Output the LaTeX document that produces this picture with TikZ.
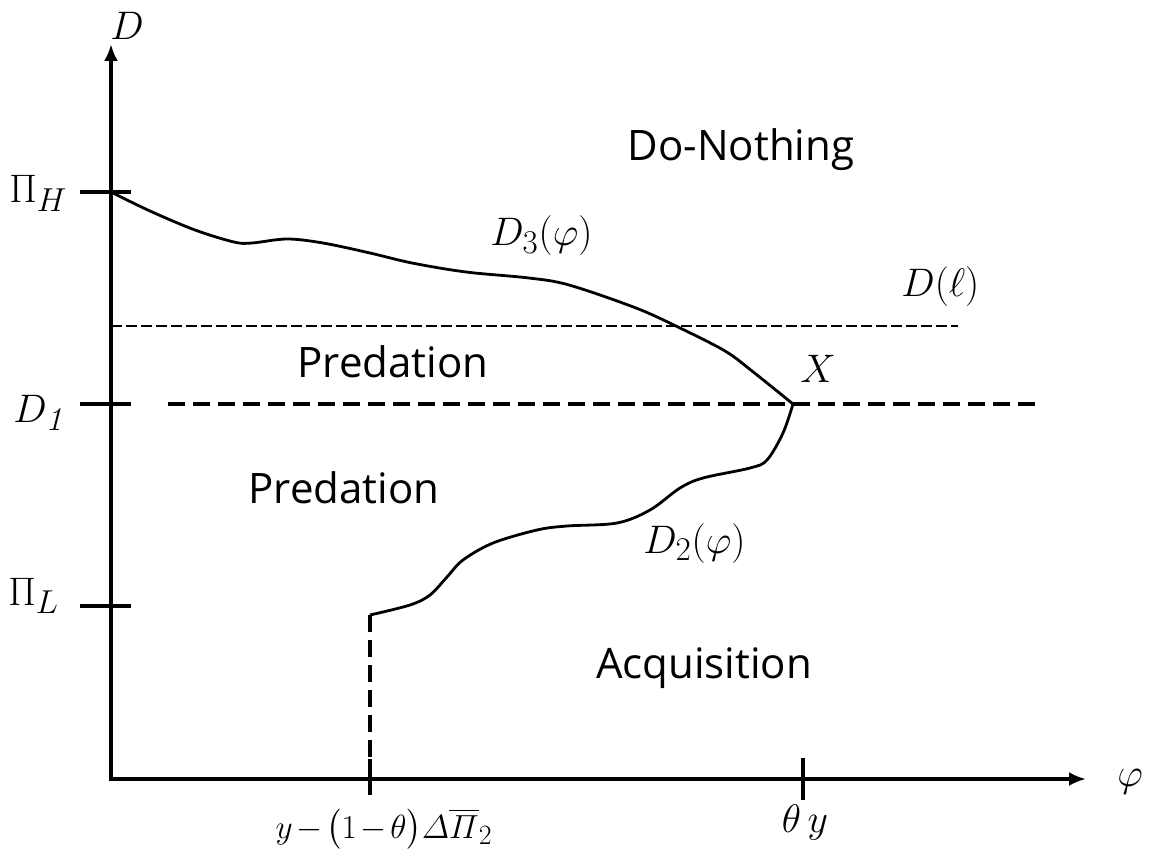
\documentclass[tikz,border=0pt]{standalone}
\usepackage{amsmath}
\usepackage{fontspec}
\newfontfamily\regionfont{Open Sans}
\usetikzlibrary{arrows.meta}
\begin{document}
\begin{tikzpicture}[x=1pt,y=-1pt,
  axis/.style={line width=3.4pt,-{Latex[length=17pt,width=14pt]}},
  tickmark/.style={line width=3.2pt},
  curve/.style={line width=2.8pt,line join=round},
  thindash/.style={line width=1.4pt,dash pattern=on 10.5pt off 4.5pt},
  thickdash/.style={line width=4.8pt,dash pattern=on 17pt off 8pt},
  region/.style={font=\regionfont\fontsize{42}{48}\selectfont,inner sep=0pt},
  mlabel/.style={font=\Huge,scale=1.6,inner sep=0pt}]
\useasboundingbox (0,0) rectangle (1150,858);
% coordinates
\coordinate (O) at (111,779);
\coordinate (ytop) at (111,44);
\coordinate (xend) at (1086,779);
\coordinate (pH) at (111,192);
\coordinate (d1) at (111,404);
\coordinate (pL) at (111,606);
\coordinate (X) at (793,404);
\coordinate (start2) at (370,615);
\coordinate (tickA) at (370,779);
\coordinate (tickB) at (803,779);
\coordinate (dlA) at (111,326);
\coordinate (dlB) at (958,326);
\coordinate (dA) at (168,404);
\coordinate (dB) at (1035,404);
% dashed lines
\draw[thindash] (dlA) -- (dlB);
\draw[thickdash] (dA) -- (dB);
\draw[thickdash] (start2) -- (tickA);
% axes
\draw[axis] (O) -- (ytop);
\draw[axis] ([xshift=-1.7pt]O) -- (xend);
% ticks
\draw[tickmark] ([xshift=-31pt]pH) -- ([xshift=20pt]pH);
\draw[tickmark] ([xshift=-31pt]d1) -- ([xshift=20pt]d1);
\draw[tickmark] ([xshift=-31pt]pL) -- ([xshift=20pt]pL);
\draw[tickmark] ([yshift=-16pt]tickA) -- ([yshift=20pt]tickA);
\draw[tickmark] ([yshift=-21pt]tickB) -- ([yshift=21pt]tickB);
% D3 curve
\draw[curve] plot[smooth,tension=0.55] coordinates {(111,192) (150,211) (195,230) (234,242) (252,243) (287,239) (323,243) (370,253) (412,263) (466,272) (529,278) (569,285) (636,308) (680,328) (725,351) (752,371) (793,404)};
% D2 curve
\draw[curve] plot[smooth,tension=0.55] coordinates {(370,615) (410,605) (430,595) (447,577) (463,560) (493,543) (537,530) (567,526) (617,523) (650,510) (680,488) (703,478) (750,468) (767,460) (783,433) (793,404)};
\draw[curve] (start2) -- ++(0,2);
% region labels
\node[region] (donothing) at (741,150) {Do-Nothing};
\node[region] (pred1) at (393,362) {Predation};
\node[region] (pred2) at (344,488) {Predation};
\node[region] (acq) at (704,668) {Acquisition};
% math labels
\node[mlabel] (Dlab) at (127,26) {$D$};
\node[mlabel,anchor=base west] (PHlab) at (9,203) {$\Pi_H$};
\node[mlabel,anchor=base west] (D1lab) at (13,422) {$D_{\mathit{1}}$};
\node[mlabel,anchor=base west] (PLlab) at (8,605) {$\Pi_L$};
\node[mlabel,anchor=base west] (D3lab) at (490,246) {$D_3(\varphi)$};
\node[mlabel,anchor=base west] (Dell) at (901,297) {$D(\ell)$};
\node[mlabel,anchor=base] (Xlab) at (818,382) {$X$};
\node[mlabel,anchor=base west] (D2lab) at (643,553) {$D_2(\varphi)$};
\node[mlabel,anchor=base,scale=0.84] (bl) at (384,838) {$y\mkern2mu{-}\mkern2mu\bigl(1\mkern2mu{-}\mkern2mu\theta\bigr)\varDelta\overline{\varPi}_2$};
\node[mlabel,anchor=base] (thy) at (805,832) {$\theta\, y$};
\node[mlabel] (phi) at (1130,782) {$\varphi$};
\end{tikzpicture}
\end{document}
